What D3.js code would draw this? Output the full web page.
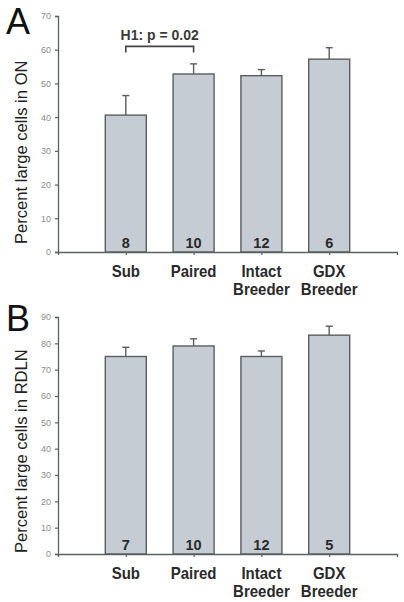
<!DOCTYPE html>
<html>
<head>
<meta charset="utf-8">
<script src="https://cdn.jsdelivr.net/npm/d3@7"></script>
<style>
  html, body { margin: 0; padding: 0; background: #fff; }
  svg { display: block; font-family: "Liberation Sans", Arial, sans-serif; }
</style>
</head>
<body>
<svg id="chart" width="404" height="602"></svg>
<script>
const categories = ["Sub", "Paired", "Intact\nBreeder", "GDX\nBreeder"];
const onValues = [40.6, 52.8, 52.3, 57.2];
const onErrors = [5.8, 3.0, 1.8, 3.4];
const onCounts = ["8", "10", "12", "6"];
const onTicks = [0, 10, 20, 30, 40, 50, 60, 70];
const rdlnValues = [75.0, 79.0, 75.0, 83.1];
const rdlnErrors = [3.5, 2.7, 2.1, 3.4];
const rdlnCounts = ["7", "10", "12", "5"];
const rdlnTicks = [0, 10, 20, 30, 40, 50, 60, 70, 80, 90];
const annotation = { from: "Sub", to: "Paired", text: "H1: p = 0.02", level: 61.0, drop: 1.8 };

const svg = d3.select("#chart");
const axisColor = "#58625e";
const barFill = "#c6ccd3";
const barStroke = "#5a5e5d";

function panel(opts) {
  const { values, errors, counts, ticks, yMax, top, bottom, letter, letterY, label, labelBottom, ann } = opts;
  const x = d3.scalePoint().domain(categories).range([58, 397]).padding(1);
  const y = d3.scaleLinear().domain([0, yMax]).range([bottom, top]);
  const bw = 41;
  const g = svg.append("g");

  g.selectAll("rect.bar").data(values).join("rect")
    .attr("x", (d, i) => x(categories[i]) - bw / 2)
    .attr("y", d => y(d))
    .attr("width", bw)
    .attr("height", d => y(0) - y(d))
    .attr("fill", barFill)
    .attr("stroke", barStroke)
    .attr("stroke-width", 1.4);

  values.forEach((v, i) => {
    const cx = x(categories[i]);
    g.append("line").attr("x1", cx).attr("x2", cx).attr("y1", y(v)).attr("y2", y(v + errors[i]))
      .attr("stroke", barStroke).attr("stroke-width", 1.4);
    g.append("line").attr("x1", cx - 3.5).attr("x2", cx + 3.5).attr("y1", y(v + errors[i])).attr("y2", y(v + errors[i]))
      .attr("stroke", barStroke).attr("stroke-width", 1.4);
  });

  counts.forEach((d, i) => {
    g.append("text")
      .attr("transform", `translate(${x(categories[i])},${bottom - 4}) scale(1,1.05)`)
      .attr("text-anchor", "middle")
      .attr("font-size", 14.5)
      .attr("font-weight", "bold")
      .attr("fill", "#2a2a2a")
      .text(d);
  });

  const yAxis = d3.axisLeft(y).tickValues(ticks).tickSize(3).tickSizeOuter(3).tickPadding(4);
  const ya = g.append("g").attr("transform", "translate(58,0)").call(yAxis);
  ya.select(".domain").attr("stroke", axisColor).attr("stroke-width", 1.3);
  ya.selectAll(".tick line").attr("stroke", axisColor).attr("stroke-width", 1.2);
  ya.selectAll(".tick text").attr("fill", "#8c8c8c").attr("font-size", 9).attr("font-family", "Liberation Sans, Arial, sans-serif");

  const xAxis = d3.axisBottom(x).tickSize(3).tickSizeOuter(3).tickFormat("");
  const xa = g.append("g").attr("transform", `translate(0,${bottom})`).call(xAxis);
  xa.select(".domain").attr("stroke", axisColor).attr("stroke-width", 1.3);
  xa.selectAll(".tick line").attr("stroke", axisColor).attr("stroke-width", 1.2);

  categories.forEach(c => {
    const lines = c.split("\n");
    lines.forEach((ln, k) => {
      g.append("text")
        .attr("transform", `translate(${x(c)},${bottom + 25 + k * 17.5}) scale(1,1.15)`)
        .attr("text-anchor", "middle")
        .attr("font-size", 15).attr("font-weight", "bold").attr("fill", "#2a2a2a")
        .text(ln);
    });
  });

  g.append("text")
    .attr("transform", `translate(27,${labelBottom}) rotate(-90)`)
    .attr("text-anchor", "start")
    .attr("font-size", 16.6)
    .attr("fill", "#222")
    .text(label);

  g.append("text")
    .attr("transform", `translate(6,${letterY}) scale(1,1.05)`)
    .attr("font-size", 36).attr("fill", "#111").text(letter);

  if (ann) {
    const x1 = x(ann.from), x2 = x(ann.to);
    g.append("path")
      .attr("d", `M${x1},${y(ann.level - ann.drop)}V${y(ann.level)}H${x2}V${y(ann.level - ann.drop)}`)
      .attr("fill", "none").attr("stroke", "#444").attr("stroke-width", 1.6);
    g.append("text")
      .attr("transform", `translate(${(x1 + x2) / 2},${y(ann.level) - 6}) scale(1,1.08)`)
      .attr("text-anchor", "middle").attr("font-size", 14).attr("font-weight", "bold")
      .attr("fill", "#3a3a3a").text(ann.text);
  }
}

panel({ values: onValues, errors: onErrors, counts: onCounts, ticks: onTicks, yMax: 70,
  top: 16, bottom: 252, letter: "A", letterY: 34, label: "Percent large cells in ON", labelBottom: 244, ann: annotation });
panel({ values: rdlnValues, errors: rdlnErrors, counts: rdlnCounts, ticks: rdlnTicks, yMax: 90,
  top: 317, bottom: 554, letter: "B", letterY: 331, label: "Percent large cells in RDLN", labelBottom: 553, ann: null });
</script>
</body>
</html>
